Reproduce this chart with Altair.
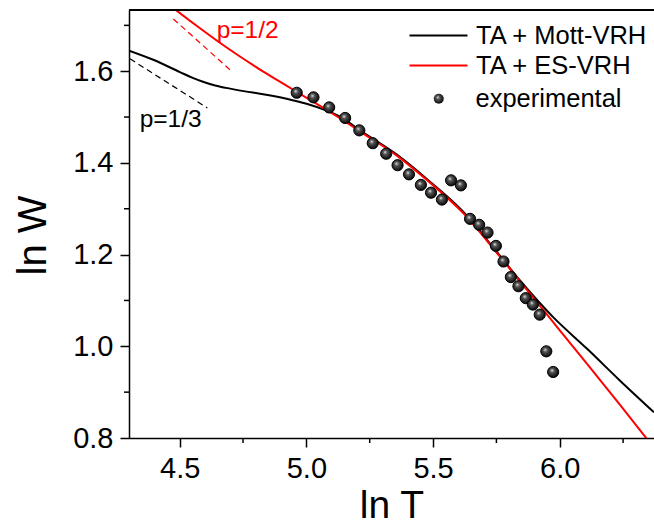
import altair as alt
import pandas as pd

# ---- data ----
exp_lnT = [4.962, 5.028, 5.090, 5.153, 5.209, 5.262, 5.315, 5.360, 5.405, 5.452,
           5.492, 5.535, 5.571, 5.610, 5.646, 5.682, 5.715, 5.748, 5.778, 5.807,
           5.837, 5.866, 5.894, 5.921, 5.947, 5.974]
exp_lnW = [1.553, 1.543, 1.521, 1.498, 1.471, 1.443, 1.420, 1.395, 1.375, 1.352,
           1.335, 1.320, 1.362, 1.351, 1.278, 1.265, 1.248, 1.219, 1.185, 1.151,
           1.131, 1.105, 1.091, 1.069, 0.989, 0.944]

mott_lnT = [4.300, 4.396, 4.501, 4.549, 4.592, 4.640, 4.699, 4.758, 4.817, 4.922,
            5.001, 5.080, 5.125, 5.225, 5.357, 5.488, 5.620, 5.750, 5.844, 5.975,
            6.107, 6.238, 6.372]
mott_lnW = [1.645, 1.625, 1.598, 1.586, 1.577, 1.569, 1.562, 1.556, 1.551, 1.540,
            1.529, 1.514, 1.503, 1.466, 1.418, 1.359, 1.293, 1.207, 1.143, 1.063,
            0.995, 0.925, 0.856]

es_lnT = [4.486, 4.567, 4.646, 4.738, 4.830, 4.923, 5.001, 5.093, 5.225, 5.357,
          5.488, 5.620, 5.750, 5.844, 5.975, 6.107, 6.238, 6.344]
es_lnW = [1.733, 1.699, 1.667, 1.632, 1.599, 1.568, 1.542, 1.511, 1.464, 1.416,
          1.357, 1.290, 1.205, 1.141, 1.052, 0.962, 0.872, 0.798]

p13_lnT = [4.304, 4.609]
p13_lnW = [1.627, 1.520]
p12_lnT = [4.475, 4.705]
p12_lnW = [1.714, 1.600]

series_names = ["TA + Mott-VRH", "TA + ES-VRH"]
series_colors = ["#000000", "#ff0000"]
exp_name = "experimental"

lab12_text, lab12_lnT, lab12_lnW = ["p=1/2"], [4.646], [1.673]
lab13_text, lab13_lnT, lab13_lnW = ["p=1/3"], [4.342], [1.479]

x_major = [4.5, 5.0, 5.5, 6.0]
x_minor = [4.75, 5.25, 5.75, 6.25]
y_major = [0.8, 1.0, 1.2, 1.4, 1.6]
y_minor = [0.9, 1.1, 1.3, 1.5, 1.7]
x_domain = [4.3, 6.372]
y_domain = [0.8, 1.7335]

# ---- tables ----
curves = pd.DataFrame({
    "lnT": mott_lnT + es_lnT,
    "lnW": mott_lnW + es_lnW,
    "series": [series_names[0]] * len(mott_lnT) + [series_names[1]] * len(es_lnT),
})
points = pd.DataFrame({"lnT": exp_lnT, "lnW": exp_lnW, "kind": [exp_name] * len(exp_lnT)})
d13 = pd.DataFrame({"lnT": p13_lnT, "lnW": p13_lnW})
d12 = pd.DataFrame({"lnT": p12_lnT, "lnW": p12_lnW})
t12 = pd.DataFrame({"lnT": lab12_lnT, "lnW": lab12_lnW, "t": lab12_text})
t13 = pd.DataFrame({"lnT": lab13_lnT, "lnW": lab13_lnW, "t": lab13_text})
xminor_df = pd.DataFrame({"lnT": x_minor})
yminor_df = pd.DataFrame({"lnW": y_minor})

FONT = "Liberation Sans"
W, H = 525, 428

xs = alt.Scale(domain=x_domain, nice=False, zero=False)
ys = alt.Scale(domain=y_domain, nice=False, zero=False)

x_axis = alt.Axis(
    orient="bottom", values=x_major, format=".1f", grid=False,
    domainColor="black", domainWidth=1.5, tickColor="black", tickWidth=1.5, tickSize=9,
    labelFont=FONT, labelFontSize=29, labelColor="black", labelBaseline="alphabetic",
    labelPadding=30, labelFlush=False, labelOverlap=False,
    title="ln T", titleFont=FONT, titleFontSize=39, titleFontWeight="normal",
    titleColor="black", titleBaseline="alphabetic", titleY=79,
)
y_axis = alt.Axis(
    orient="left", values=y_major, format=".1f", grid=False,
    domainColor="black", domainWidth=1.5, tickColor="black", tickWidth=1.5, tickSize=9,
    labelFont=FONT, labelFontSize=29, labelColor="black", labelPadding=7,
    labelFlush=False, labelOverlap=False,
    title="ln W", titleFont=FONT, titleFontSize=40, titleFontWeight="normal",
    titleColor="black", titleBaseline="alphabetic", titleAngle=270,
    titleX=-84, titleY=225, titleAlign="center",
)


def X():
    return alt.X("lnT:Q", scale=xs, axis=x_axis)


def Y():
    return alt.Y("lnW:Q", scale=ys, axis=y_axis)


line_legend = alt.Legend(
    orient="none", legendX=294, legendY=10, title=None, padding=0,
    symbolType="M-2,0H2", symbolSize=841, symbolStrokeWidth=2,
    labelFont=FONT, labelFontSize=25.5, labelColor="black", labelOffset=22,
    labelLimit=400, rowPadding=1,
)
point_legend = alt.Legend(
    orient="none", legendX=297, legendY=76, title=None, padding=0,
    symbolSize=100, symbolFillColor="black", symbolStrokeColor="black",
    labelFont=FONT, labelFontSize=25.5, labelColor="black", labelOffset=24,
    labelLimit=400,
)

curve_layer = alt.Chart(curves).mark_line(strokeWidth=2, interpolate="monotone", clip=True).encode(
    x=X(), y=Y(),
    color=alt.Color("series:N", scale=alt.Scale(domain=series_names, range=series_colors),
                    legend=line_legend),
)

dash13 = alt.Chart(d13).mark_line(strokeWidth=1.2, strokeDash=[6, 4], color="black", clip=True).encode(
    x=X(), y=Y(),
)
dash12 = alt.Chart(d12).mark_line(strokeWidth=1.2, strokeDash=[6, 4], color="red", clip=True).encode(
    x=X(), y=Y(),
)

text12 = alt.Chart(t12).mark_text(font=FONT, fontSize=24.5, color="red", align="left",
                                  baseline="alphabetic").encode(x=X(), y=Y(), text="t:N")
text13 = alt.Chart(t13).mark_text(font=FONT, fontSize=24.5, color="black", align="left",
                                  baseline="alphabetic").encode(x=X(), y=Y(), text="t:N")

# minor ticks (outside the plot, like the major axis ticks)
xminor_layer = alt.Chart(xminor_df).mark_rule(color="black", strokeWidth=1.5).encode(
    x=X(), y=alt.value(H), y2=alt.value(H + 5),
)
yminor_layer = alt.Chart(yminor_df).mark_rule(color="black", strokeWidth=1.5).encode(
    y=Y(), x=alt.value(-5), x2=alt.value(0),
)
# top frame line
top_frame = alt.Chart(xminor_df).mark_rule(color="black", strokeWidth=1.5).encode(
    x=alt.value(0), x2=alt.value(W), y=alt.value(0),
)

ball = alt.RadialGradient(
    gradient="radial",
    stops=[alt.GradientStop(offset=0, color="#eeeeee"),
           alt.GradientStop(offset=0.3, color="#555555"),
           alt.GradientStop(offset=1, color="#000000")],
    x1=0.4, y1=0.35, r1=0, x2=0.45, y2=0.45, r2=0.6,
)

point_layer = alt.Chart(points).mark_point(
    filled=True, size=125, fill=ball, stroke="black", strokeWidth=1, opacity=1, clip=True
).encode(
    x=X(), y=Y(),
    shape=alt.Shape("kind:N", scale=alt.Scale(domain=[exp_name], range=["circle"]),
                    legend=point_legend),
)

chart = alt.layer(
    curve_layer, dash13, dash12, text12, text13, xminor_layer, yminor_layer, top_frame, point_layer
).properties(
    width=W, height=H,
    autosize=alt.AutoSizeParams(type="none"),
    padding={"left": 129, "top": 10, "right": 0, "bottom": 88},
).configure_view(stroke=None).configure(background="white")

chart.save("out.html", embed_options={"renderer": "svg", "actions": False})
